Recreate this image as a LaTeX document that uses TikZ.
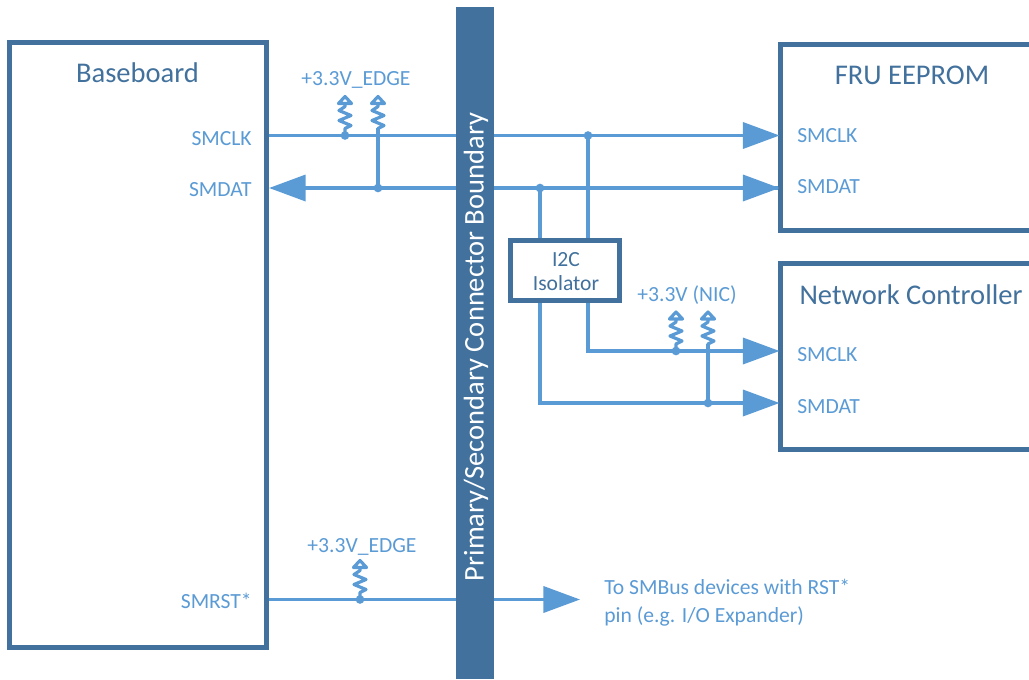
\documentclass[tikz,border=0pt]{standalone}
\usepackage{fontspec}
\setmainfont{Carlito}
\usetikzlibrary{arrows.meta,calc}
\definecolor{wirec}{HTML}{5B9BD5}
\definecolor{darkc}{HTML}{41719C}
\tikzset{
  box/.style={draw=darkc,line width=3.75pt,fill=white,inner sep=0pt,anchor=north west},
  wire/.style={draw=wirec,line width=2.7pt},
  arrowed/.style={wire,-{Triangle[length=27.5pt,width=19.5pt,color=wirec]},shorten >=-1.2pt},
  dotn/.style={circle,fill=wirec,inner sep=0pt,minimum size=6.5pt},
  lab/.style={text=wirec,font=\fontsize{16.2}{18}\selectfont,inner sep=0pt},
  title/.style={text=darkc,font=\fontsize{21.4}{25}\selectfont,inner sep=0pt},
  pullup/.pic={
    \draw[draw=wirec,line width=2.4pt,line join=round]
      (0,0) -- (0,-7) -- (6,-10) -- (-6,-15) -- (6,-20) -- (-6,-25) -- (0,-29) -- (0,-32)
      (-6.5,-32) -- (6.5,-32) -- (0,-39) -- cycle;
  }
}
\begin{document}
\begin{tikzpicture}[x=0.75pt,y=-0.75pt,every node/.append style={align=center}]
\useasboundingbox (0,0) rectangle (1029,679);
\clip (0,0) rectangle (1029,679);
% y levels
\coordinate (yclk) at (0,135.5);
\coordinate (ydat) at (0,188);
\coordinate (yclkb) at (0,351);
\coordinate (ydatb) at (0,403);
\coordinate (yrst) at (0,599.5);
\coordinate (xa) at (540,0);
\coordinate (xb) at (588,0);
\coordinate (xc) at (345,0);
\coordinate (xd) at (378,0);
\coordinate (xe) at (676,0);
\coordinate (xf) at (708,0);
\coordinate (xg) at (360,0);
% boxes
\node[box,minimum width=192.75pt,minimum height=454pt] (base) at (7,40) {};
\node[box,minimum width=240pt,minimum height=140pt] (fru) at (778,41.5) {};
\node[box,minimum width=240pt,minimum height=139.5pt] (nic) at (778,260.5) {};
\coordinate (rstend) at (578.5,599.5);
% wires
\draw[arrowed] (base.east|-yclk) -- (fru.west|-yclk);
\draw[arrowed,shorten >=0pt] (fru.west|-ydat) -- (base.east|-ydat);
\draw[arrowed] (xa|-ydat) -- (fru.west|-ydat);
\draw[arrowed] (base.east|-yrst) -- (rstend);
% isolator
\node[box,minimum width=81.75pt,minimum height=45pt] (iso) at (508,238) {};
\node[lab,text=darkc,anchor=center] (isot) at (566,272) {I2C\\Isolator};
\draw[wire] (xa|-ydat) -- (xa|-iso.north);
\draw[wire] (xb|-yclk) -- (xb|-iso.north);
\draw[arrowed] (xb|-iso.south) -- (xb|-yclkb) -- (nic.west|-yclkb);
\draw[arrowed] (xa|-iso.south) -- (xa|-ydatb) -- (nic.west|-ydatb);
% pull-ups
\draw[wire,line width=2.4pt] (xd|-ydat) -- (378,128);
\draw[wire,line width=2.4pt] (xf|-ydatb) -- (708,344);
\pic at (xc|-yclk) {pullup};
\pic at (378,135.5) {pullup};
\pic at (xe|-yclkb) {pullup};
\pic at (708,351) {pullup};
\pic at (xg|-yrst) {pullup};
% dots
\node[dotn] (d1) at (xc|-yclk) {};
\node[dotn] (d2) at (xd|-ydat) {};
\node[dotn] (d3) at (xb|-yclk) {};
\node[dotn] (d4) at (xa|-ydat) {};
\node[dotn] (d5) at (xe|-yclkb) {};
\node[dotn] (d6) at (xf|-ydatb) {};
\node[dotn] (d7) at (xg|-yrst) {};
% bar
\node[fill=darkc,inner sep=0pt,minimum width=28pt,minimum height=504pt,anchor=north west] (bar) at (456,7) {};
\node[rotate=90,text=white,font=\fontsize{21.4}{25}\selectfont,inner sep=0pt] (bart) at (476,347) {Primary/Secondary Connector Boundary};
% titles
\node[title] (t1) at (137.5,73) {Baseboard};
\node[title] (t2) at (912,75) {FRU EEPROM};
\node[title] (t3) at (911,295) {Network Controller};
% labels
\node[lab,anchor=east] (l1) at (252,139) {SMCLK};
\node[lab,anchor=east] (l2) at (252,190) {SMDAT};
\node[lab,anchor=east] (l3) at (252,601) {SMRST*};
\node[lab,anchor=west] (l4) at (797,136) {SMCLK};
\node[lab,anchor=west] (l5) at (797,187) {SMDAT};
\node[lab,anchor=west] (l6) at (797,355) {SMCLK};
\node[lab,anchor=west] (l7) at (797,407) {SMDAT};
\node[lab] (l8) at (356,80) {+3.3V\_EDGE};
\node[lab] (l9) at (687,295) {+3.3V (NIC)};
\node[lab] (l10) at (362,547) {+3.3V\_EDGE};
\node[lab,anchor=west,align=left] (l11) at (604,603) {To SMBus devices with RST*\\[3pt]pin (e.g. I/O Expander)};
\end{tikzpicture}
\end{document}
